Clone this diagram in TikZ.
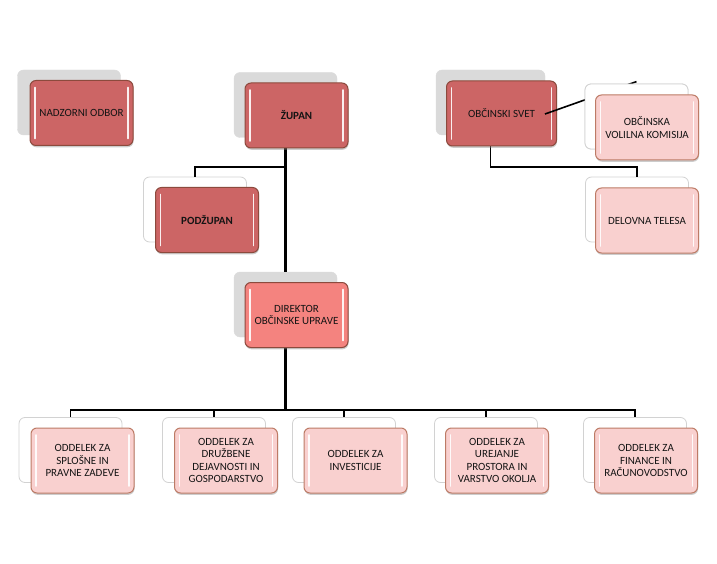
\documentclass[tikz,border=0pt]{standalone}
\usepackage{fontspec}
\setmainfont{Carlito}
\usetikzlibrary{shadows,calc}
\definecolor{darkfill}{HTML}{CC6565}
\definecolor{darkline}{HTML}{8C4A3D}
\definecolor{dirfill}{HTML}{F4837F}
\definecolor{lightfill}{HTML}{F9D0CF}
\definecolor{lightline}{HTML}{BD7B66}
\definecolor{backgray}{HTML}{DADADA}
\definecolor{backline}{HTML}{D2D2D2}
\definecolor{txt}{HTML}{141414}
\tikzset{
  basebox/.style={rounded corners=6pt, minimum width=103pt, minimum height=65pt, inner sep=2pt},
  greyback/.style={basebox, fill=backgray, draw=backgray},
  whiteback/.style={basebox, fill=white, draw=backline, line width=0.8pt},
  gloss/.style={path picture={
      \draw[white, opacity=0.9, line width=1.6pt, line cap=round]
        ([xshift=5pt,yshift=-7pt]path picture bounding box.north west) --
        ([xshift=5pt,yshift=7pt]path picture bounding box.south west);
      \draw[white, opacity=0.9, line width=1.6pt, line cap=round]
        ([xshift=-5pt,yshift=-7pt]path picture bounding box.north east) --
        ([xshift=-5pt,yshift=7pt]path picture bounding box.south east);}},
  frontbox/.style={basebox, align=center, text=txt, line width=1pt, gloss,
      font=\fontsize{11}{12.3}\selectfont,
      drop shadow={shadow xshift=0.5pt, shadow yshift=-1.8pt, opacity=0.4}},
  darkbox/.style={frontbox, fill=darkfill, draw=darkline},
  dirbox/.style={frontbox, fill=dirfill, draw=darkline},
  lightbox/.style={frontbox, fill=lightfill, draw=lightline},
  conn/.style={draw=black, line width=1.6pt},
  trunk/.style={draw=black, line width=2.4pt}
}
\begin{document}
\begin{tikzpicture}[x=1pt,y=-1pt]
\useasboundingbox (0,0) rectangle (717,564);
% back boxes
\node[greyback] (nadb) at (69,102.5) {};
\node[greyback] (zupb) at (285.5,105) {};
\node[greyback, minimum width=109pt] (svetb) at (490.5,102.5) {};
\node[whiteback] (volb) at (636.5,116.5) {};
\node[whiteback] (podb) at (195,209.5) {};
\node[greyback] (dirb) at (285.5,304.5) {};
\node[whiteback] (delb) at (637,209.5) {};
\node[whiteback] (b1) at (70.5,450) {};
\node[whiteback] (b2) at (214,450) {};
\node[whiteback] (b3) at (344,450) {};
\node[whiteback] (b4) at (486,450) {};
\node[whiteback] (b5) at (635,450) {};
% connectors
\coordinate (podj) at (285.5,167);
\coordinate (svj) at (490.5,167);
\coordinate (bus) at (285.5,410);
\coordinate (volt) at ($(volb.north)+(0,-2)$);
\draw[trunk] (zupb.south) -- (dirb.north);
\draw[conn] (podj) -| (podb.north);
\draw[conn] (svetb.south) -- (svj) -| (delb.north);
\draw[trunk] (dirb.south) -- (bus);
\draw[conn] (bus) -| (b1.north);
\draw[conn] (bus) -| (b2.north);
\draw[conn] (bus) -| (b3.north);
\draw[conn] (bus) -| (b4.north);
\draw[conn] (bus) -| (b5.north);
% front boxes
\node[darkbox] (nad) at (81.5,113) {NADZORNI ODBOR};
\node[darkbox] (zup) at (296.5,115.5) {\bfseries ŽUPAN};
\node[darkbox, minimum width=110pt] (svet) at (501.5,113.5) {OBČINSKI SVET};
\coordinate (svs) at (545,114);
\draw[conn] (svs) -- (volt);
\node[whiteback] at (volb) {};
\node[lightbox] (vol) at (647,127.5) {OBČINSKA\\VOLILNA KOMISIJA};
\node[darkbox] (pod) at (207,220) {\bfseries PODŽUPAN};
\node[dirbox] (dir) at (296.5,315) {DIREKTOR\\OBČINSKE UPRAVE};
\node[lightbox] (del) at (647,220.5) {DELOVNA TELESA};
\node[lightbox] (o1) at (82.5,460.5) {ODDELEK ZA\\SPLOŠNE IN\\PRAVNE ZADEVE};
\node[lightbox] (o2) at (226,460.5) {ODDELEK ZA\\DRUŽBENE\\DEJAVNOSTI IN\\GOSPODARSTVO};
\node[lightbox] (o3) at (355.5,460.5) {ODDELEK ZA\\INVESTICIJE};
\node[lightbox] (o4) at (497,460.5) {ODDELEK ZA\\UREJANJE\\PROSTORA IN\\VARSTVO OKOLJA};
\node[lightbox] (o5) at (646,460.5) {ODDELEK ZA\\FINANCE IN\\RAČUNOVODSTVO};
\end{tikzpicture}
\end{document}
